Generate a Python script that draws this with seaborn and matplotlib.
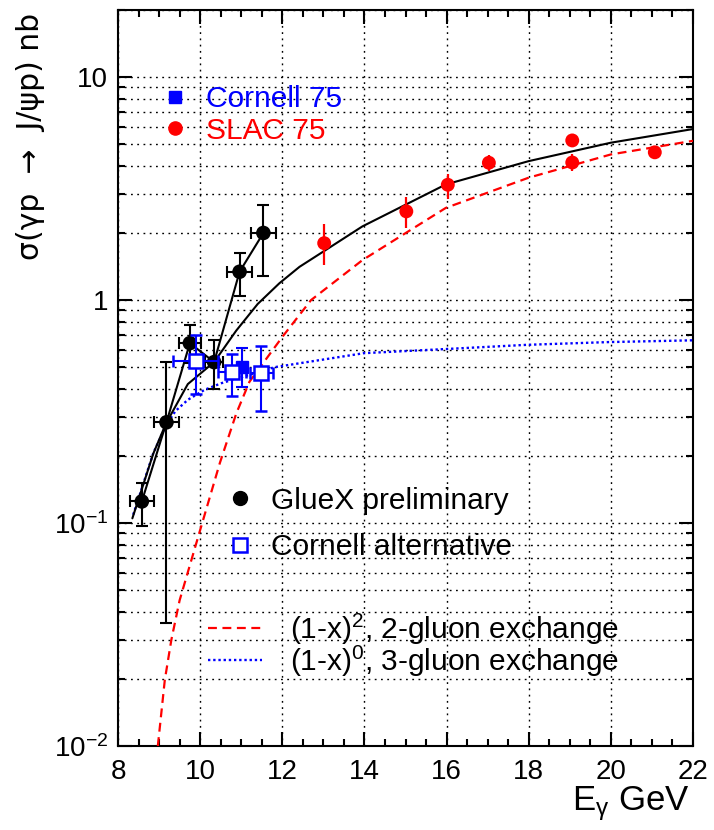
import numpy as np
import pandas as pd
import matplotlib
matplotlib.use("Agg")
import matplotlib.pyplot as plt
from matplotlib.ticker import MultipleLocator, LogLocator, FixedLocator, NullFormatter
from matplotlib.lines import Line2D
import seaborn as sns

# ---------------- data ----------------
# GlueX preliminary
gluex_E = [8.58, 9.18, 9.75, 10.34, 10.96, 11.54]
gluex_sigma = [0.125, 0.283, 0.641, 0.527, 1.34, 2.00]
gluex_lo = [0.0966, 0.0356, 0.52, 0.40, 1.045, 1.28]
gluex_hi = [0.151, 0.53, 0.77, 0.66, 1.63, 2.68]
gluex_dE = [0.30, 0.30, 0.27, 0.22, 0.30, 0.30]

# Cornell alternative (open squares)
cornalt_E = [9.89, 10.78, 11.49]
cornalt_sigma = [0.533, 0.475, 0.472]
cornalt_lo = [0.38, 0.373, 0.317]
cornalt_hi = [0.696, 0.575, 0.62]
cornalt_dE = [0.55, 0.34, 0.28]

# Cornell 75 (filled square)
cornell_E = [11.03]
cornell_sigma = [0.50]
cornell_lo = [0.407]
cornell_hi = [0.61]

# SLAC 75
slac_E = [13.02, 15.02, 16.03, 17.03, 19.06, 19.06, 21.07]
slac_sigma = [1.80, 2.50, 3.29, 4.13, 5.20, 4.14, 4.60]
slac_lo = [1.44, 2.10, 2.84, 3.79, 5.00, 3.80, 4.40]
slac_hi = [2.19, 2.90, 3.69, 4.48, 5.40, 4.50, 4.80]

# model curves
two_gluon_E = [8.97, 9.14, 9.30, 9.50, 10.00, 10.48, 10.88, 11.20, 12.01, 12.70,
               13.95, 15.98, 18.00, 20.00, 22.00]
two_gluon_sigma = [0.0100, 0.0198, 0.030, 0.045, 0.093, 0.186, 0.31, 0.43, 0.687, 1.00,
                   1.51, 2.59, 3.54, 4.50, 5.18]

three_gluon_E = [8.37, 8.86, 9.17, 9.40, 9.70, 10.11, 10.52, 11.81, 13.99, 15.97,
                 17.96, 19.94, 22.00]
three_gluon_sigma = [0.109, 0.206, 0.275, 0.318, 0.357, 0.396, 0.424, 0.50, 0.578, 0.603,
                     0.63, 0.648, 0.66]

total_E = [8.35, 8.86, 9.17, 9.70, 10.34, 10.88, 11.40, 11.93, 12.42, 13.02, 13.95,
           15.98, 18.00, 20.00, 22.00]
total_sigma = [0.105, 0.205, 0.280, 0.42, 0.527, 0.73, 0.96, 1.19, 1.41, 1.66, 2.14,
               3.30, 4.20, 5.08, 5.85]

x_ticks = [8, 10, 12, 14, 16, 18, 20, 22]
x_tick_labels = ["8", "10", "12", "14", "16", "18", "20", "22"]
y_ticks = [0.01, 0.1, 1, 10]
y_tick_labels = ["$10^{-2}$", "$10^{-1}$", "1", "10"]

# ---------------- style ----------------
sns.set_style("ticks")
plt.rcParams["font.family"] = ["Liberation Sans", "DejaVu Sans"]
plt.rcParams["mathtext.fontset"] = "custom"
plt.rcParams["mathtext.rm"] = "Liberation Sans"
plt.rcParams["mathtext.it"] = "Liberation Sans:italic"
plt.rcParams["mathtext.default"] = "regular"
plt.rcParams["font.size"] = 20
plt.rcParams["text.color"] = "black"
plt.rcParams["axes.labelcolor"] = "black"
plt.rcParams["xtick.color"] = "black"
plt.rcParams["ytick.color"] = "black"

BLUE = "#0000ff"
RED = "#ff0000"
LEGFS = 21.5

fig = plt.figure(figsize=(7.14, 8.30), dpi=100)
ax = fig.add_axes([118 / 714, 1 - 746 / 830, 575 / 714, 736 / 830])

ax.set_yscale("log")
ax.set_xlim(8, 22)
ax.set_ylim(0.01, 20)

# grid
ax.set_axisbelow(True)
ax.grid(True, which="major", axis="x", color="black", lw=1.0, ls=(0, (1.3, 3.2)))
ax.grid(True, which="both", axis="y", color="black", lw=1.0, ls=(0, (1.3, 3.2)))

# model curves
sns.lineplot(x=two_gluon_E, y=two_gluon_sigma, ax=ax, color=RED, lw=1.6, sort=True, zorder=3)
ax.lines[-1].set_dashes((4, 2.5))
sns.lineplot(x=three_gluon_E, y=three_gluon_sigma, ax=ax, color=BLUE, lw=1.7,
             sort=True, zorder=3)
ax.lines[-1].set_dashes((1, 1.2))
sns.lineplot(x=total_E, y=total_sigma, ax=ax, color="black", lw=1.5, sort=True, zorder=3)

# GlueX polyline + points
gl = pd.DataFrame({"E": gluex_E, "s": gluex_sigma})
sns.lineplot(data=gl, x="E", y="s", ax=ax, color="black", lw=1.5, sort=False, zorder=4)
g_s = np.array(gluex_sigma)
ax.errorbar(gluex_E, gluex_sigma, xerr=gluex_dE,
            yerr=[g_s - np.array(gluex_lo), np.array(gluex_hi) - g_s],
            fmt="none", ecolor="black", elinewidth=1.5, capsize=4.5, capthick=1.5, zorder=5)
sns.scatterplot(data=gl, x="E", y="s", ax=ax, color="black", s=110, marker="o",
                edgecolor="none", zorder=6)

# SLAC 75
s_s = np.array(slac_sigma)
ax.errorbar(slac_E, slac_sigma, yerr=[s_s - np.array(slac_lo), np.array(slac_hi) - s_s],
            fmt="none", ecolor=RED, elinewidth=1.6, capsize=0, zorder=5)
sns.scatterplot(x=slac_E, y=slac_sigma, ax=ax, color=RED, s=100, marker="o",
                edgecolor="none", zorder=6)

# Cornell 75 filled
c_s = np.array(cornell_sigma)
ax.errorbar(cornell_E, cornell_sigma, yerr=[c_s - np.array(cornell_lo), np.array(cornell_hi) - c_s],
            fmt="s", color=BLUE, ms=9, mec=BLUE, mfc=BLUE, elinewidth=1.5,
            capsize=4.5, capthick=1.5, zorder=7)

# Cornell alternative open
ca_s = np.array(cornalt_sigma)
ax.errorbar(cornalt_E, cornalt_sigma, xerr=cornalt_dE,
            yerr=[ca_s - np.array(cornalt_lo), np.array(cornalt_hi) - ca_s],
            fmt="s", color=BLUE, ms=10, mec=BLUE, mfc="white", mew=1.8, elinewidth=1.5,
            capsize=4.5, capthick=1.5, zorder=8)

# axes / ticks
ax.xaxis.set_major_locator(FixedLocator(x_ticks))
ax.set_xticklabels(x_tick_labels)
ax.xaxis.set_minor_locator(MultipleLocator(0.5))
ax.yaxis.set_major_locator(FixedLocator(y_ticks))
ax.set_yticklabels(y_tick_labels)
ax.yaxis.set_minor_locator(LogLocator(base=10, subs=np.arange(2, 10)))
ax.yaxis.set_minor_formatter(NullFormatter())
ax.tick_params(which="both", direction="in", top=True, right=True, width=1.5,
               colors="black", labelsize=20)
ax.tick_params(which="major", length=10)
ax.tick_params(which="minor", length=5)
ax.tick_params(axis="x", which="major", pad=9)
ax.tick_params(axis="y", which="major", pad=7)
for sp in ax.spines.values():
    sp.set_linewidth(1.5)
    sp.set_color("black")

ax.set_xlabel("E$_{γ}$ GeV", fontsize=25, loc="right", va="center")
ax.xaxis.set_label_coords(0.995, -0.078)
ax.set_ylabel("σ(γp  →  J/ψp) nb", fontsize=21.5, loc="top", va="center",
              family=["DejaVu Sans"])
ax.yaxis.set_label_coords(-0.153, 0.996)

# legends
h_top = [Line2D([], [], marker="s", color=BLUE, ls="none", ms=8.5),
         Line2D([], [], marker="o", color=RED, ls="none", ms=9.5)]
leg1 = ax.legend(h_top, ["Cornell 75", "SLAC 75"], loc="upper left",
                 bbox_to_anchor=(0.0748, 0.898), frameon=False, fontsize=LEGFS,
                 handlelength=0.95, handletextpad=0.55, borderpad=0, borderaxespad=0,
                 labelspacing=0.12)
for t, c in zip(leg1.get_texts(), [BLUE, RED]):
    t.set_color(c)
ax.add_artist(leg1)

h_mid = [Line2D([], [], marker="o", color="black", ls="none", ms=10),
         Line2D([], [], marker="s", color=BLUE, mfc="white", mew=1.8, ls="none", ms=10)]
leg2 = ax.legend(h_mid, ["GlueX preliminary", "Cornell alternative"], loc="upper left",
                 bbox_to_anchor=(0.188, 0.352), frameon=False, fontsize=LEGFS,
                 handlelength=0.95, handletextpad=0.55, borderpad=0, borderaxespad=0,
                 labelspacing=0.62)
ax.add_artist(leg2)

h_bot = [Line2D([], [], color=RED, lw=1.6, dashes=(4, 2.5)),
         Line2D([], [], color=BLUE, lw=1.7, dashes=(1, 1.2))]
leg3 = ax.legend(h_bot, ["(1-x)$^{2}$, 2-gluon exchange", "(1-x)$^{0}$, 3-gluon exchange"],
                 loc="upper left", bbox_to_anchor=(0.1565, 0.183), frameon=False,
                 fontsize=LEGFS, handlelength=1.8, handletextpad=0.95, borderpad=0,
                 borderaxespad=0, labelspacing=-0.1)

fig.savefig("out.png", dpi=100)
